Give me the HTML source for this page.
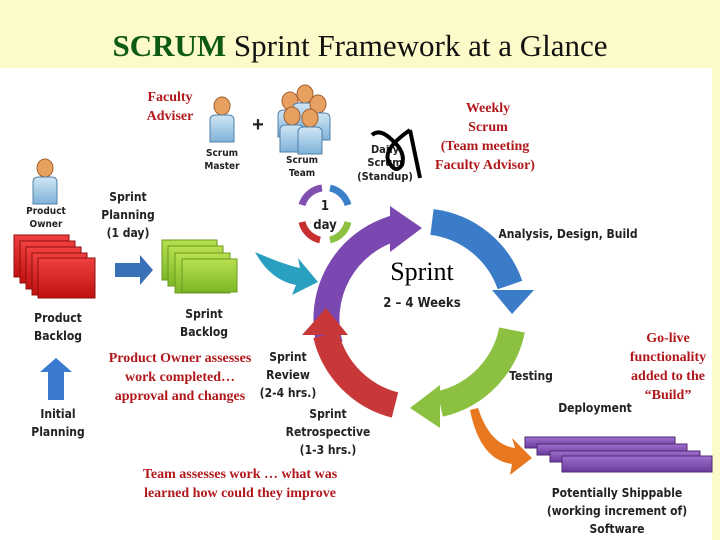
<!DOCTYPE html>
<html><head><meta charset="utf-8"><style>
body{margin:0;width:720px;height:540px;overflow:hidden;background:#fff}
svg{display:block}
.c{font-family:"DejaVu Sans Condensed","Liberation Sans",sans-serif;font-weight:bold;fill:#222}
.r{font-family:"Liberation Serif",serif;font-weight:bold;fill:#b0181c;font-size:14px}
</style></head><body>
<svg width="720" height="540" viewBox="0 0 720 540">
<defs>
<linearGradient id="rd" x1="0" y1="0" x2="0" y2="1"><stop offset="0" stop-color="#f04040"/><stop offset="1" stop-color="#c01010"/></linearGradient>
<linearGradient id="gr" x1="0" y1="0" x2="0" y2="1"><stop offset="0" stop-color="#b8e050"/><stop offset="1" stop-color="#7cb828"/></linearGradient>
<linearGradient id="pu" x1="0" y1="0" x2="0" y2="1"><stop offset="0" stop-color="#a070d0"/><stop offset="1" stop-color="#6a3a9a"/></linearGradient>
<linearGradient id="bd" x1="0" y1="0" x2="0" y2="1"><stop offset="0" stop-color="#cfe6f5"/><stop offset="1" stop-color="#7fb2d8"/></linearGradient>
<g id="p"><ellipse cx="0" cy="-14" rx="8" ry="9" fill="#e8a060" stroke="#a06030"/><path d="M-12 22 L-12 0 Q-12 -5 -6 -5 L6 -5 Q12 -5 12 0 L12 22 Z" fill="url(#bd)" stroke="#5080a8"/></g>
</defs>
<rect x="0" y="0" width="720" height="68" fill="#fcfac8"/>
<rect x="712" y="68" width="8" height="472" fill="#fcfac8"/>
<text x="360" y="56" text-anchor="middle" font-family="Liberation Serif,serif" font-size="31" fill="#111"><tspan fill="#0d5a12" font-weight="bold">SCRUM</tspan> Sprint Framework at a Glance</text>

<text class="r" x="170" y="101" text-anchor="middle">Faculty</text>
<text class="r" x="170" y="120" text-anchor="middle">Adviser</text>
<use href="#p" x="222" y="120"/>
<text class="c" x="222" y="156" text-anchor="middle" font-size="10">Scrum</text>
<text class="c" x="222" y="169" text-anchor="middle" font-size="10">Master</text>
<text x="258" y="131" text-anchor="middle" font-size="20" font-weight="bold" font-family="Liberation Sans,sans-serif" fill="#222">+</text>
<use href="#p" x="290" y="115"/><use href="#p" x="305" y="108"/><use href="#p" x="318" y="118"/><use href="#p" x="292" y="130"/><use href="#p" x="310" y="132"/>
<text class="c" x="302" y="163" text-anchor="middle" font-size="10">Scrum</text>
<text class="c" x="302" y="176" text-anchor="middle" font-size="10">Team</text>

<text class="c" x="385" y="153" text-anchor="middle" font-size="11">Daily</text>
<text class="c" x="385" y="166" text-anchor="middle" font-size="11">Scrum</text>
<text class="c" x="385" y="180" text-anchor="middle" font-size="11">(Standup)</text>
<path d="M372 135 Q380 128 392 140 Q406 152 402 165 Q395 175 388 160 Q384 148 410 130 M410 130 L420 178" stroke="#000" stroke-width="4" fill="none"/>
<text class="r" x="488" y="112" text-anchor="middle">Weekly</text>
<text class="r" x="488" y="131" text-anchor="middle">Scrum</text>
<text class="r" x="485" y="150" text-anchor="middle">(Team meeting</text>
<text class="r" x="485" y="169" text-anchor="middle">Faculty Advisor)</text>

<use href="#p" x="45" y="182"/>
<text class="c" x="46" y="214" text-anchor="middle" font-size="10">Product</text>
<text class="c" x="46" y="227" text-anchor="middle" font-size="10">Owner</text>
<g stroke="#901010" stroke-width="1">
<rect x="14" y="235" width="55" height="42" fill="url(#rd)"/><rect x="20" y="241" width="55" height="42" fill="url(#rd)"/><rect x="26" y="247" width="55" height="42" fill="url(#rd)"/><rect x="32" y="253" width="55" height="42" fill="url(#rd)"/><rect x="38" y="258" width="57" height="40" fill="url(#rd)"/></g>
<text class="c" x="58" y="322" text-anchor="middle" font-size="12">Product</text>
<text class="c" x="58" y="340" text-anchor="middle" font-size="12">Backlog</text>
<path d="M48 400 L48 372 L40 372 L56 358 L72 372 L64 372 L64 400 Z" fill="#3a7ad0"/>
<text class="c" x="58" y="418" text-anchor="middle" font-size="12">Initial</text>
<text class="c" x="58" y="436" text-anchor="middle" font-size="12">Planning</text>

<text class="c" x="128" y="201" text-anchor="middle" font-size="12">Sprint</text>
<text class="c" x="128" y="219" text-anchor="middle" font-size="12">Planning</text>
<text class="c" x="128" y="237" text-anchor="middle" font-size="12">(1 day)</text>
<path d="M115 263 L140 263 L140 255 L153 270 L140 285 L140 277 L115 277 Z" fill="#3a70b8"/>
<g stroke="#6a9a20"><rect x="162" y="240" width="55" height="40" fill="url(#gr)"/><rect x="168" y="246" width="55" height="40" fill="url(#gr)"/><rect x="175" y="253" width="55" height="40" fill="url(#gr)"/><rect x="182" y="259" width="55" height="33" fill="url(#gr)"/></g>
<text class="c" x="204" y="318" text-anchor="middle" font-size="12">Sprint</text>
<text class="c" x="204" y="336" text-anchor="middle" font-size="12">Backlog</text>

<g fill="none" stroke-width="7">
<path d="M302 205 A24 24 0 0 1 322 188" stroke="#8050b0"/><path d="M330 188 A24 24 0 0 1 348 205" stroke="#3a80c8"/>
<path d="M348 222 A24 24 0 0 1 330 240" stroke="#8cc040"/><path d="M320 240 A24 24 0 0 1 302 222" stroke="#c83030"/></g>
<text class="c" x="325" y="210" text-anchor="middle" font-size="13">1</text>
<text class="c" x="325" y="229" text-anchor="middle" font-size="13">day</text>

<path d="M255 252 Q285 265 300 268 L298 258 L318 282 L292 295 L296 285 Q270 280 255 252 Z" fill="#2aa0c0"/>
<g fill="none" stroke-width="26">
<path d="M330 345 A95 95 0 0 1 395 228" stroke="#7a48b0"/>
<path d="M432 222 A95 95 0 0 1 510 285" stroke="#3a7cc8"/>
<path d="M512 330 A95 95 0 0 1 440 404" stroke="#8cc040"/>
<path d="M395 405 A95 95 0 0 1 326 335" stroke="#c83838"/></g>
<polygon points="390,206 422,228 390,252" fill="#7a48b0"/>
<polygon points="492,290 534,290 512,314" fill="#3a7cc8"/>
<polygon points="440,385 440,428 410,408" fill="#8cc040"/>
<polygon points="302,335 348,335 326,308" fill="#c83838"/>
<text x="422" y="280" text-anchor="middle" font-family="Liberation Serif,serif" font-size="26" fill="#000">Sprint</text>
<text class="c" x="422" y="307" text-anchor="middle" font-size="13">2 – 4 Weeks</text>
<text class="c" x="568" y="238" text-anchor="middle" font-size="12">Analysis, Design, Build</text>
<text class="c" x="531" y="380" text-anchor="middle" font-size="12">Testing</text>
<text class="c" x="595" y="412" text-anchor="middle" font-size="12">Deployment</text>
<path d="M478 408 Q490 445 515 448 L512 438 L532 458 L510 475 L512 464 Q480 460 470 410 Z" fill="#e87820"/>

<g stroke="#502870"><rect x="525" y="437" width="150" height="11" fill="url(#pu)"/><rect x="537" y="444" width="150" height="11" fill="url(#pu)"/><rect x="550" y="451" width="150" height="11" fill="url(#pu)"/><rect x="562" y="456" width="150" height="16" fill="url(#pu)"/></g>
<text class="c" x="617" y="497" text-anchor="middle" font-size="12">Potentially Shippable</text>
<text class="c" x="617" y="515" text-anchor="middle" font-size="12">(working increment of)</text>
<text class="c" x="617" y="533" text-anchor="middle" font-size="12">Software</text>
<text class="r" x="668" y="342" text-anchor="middle">Go-live</text>
<text class="r" x="668" y="361" text-anchor="middle">functionality</text>
<text class="r" x="668" y="380" text-anchor="middle">added to the</text>
<text class="r" x="668" y="399" text-anchor="middle">“Build”</text>

<text class="c" x="288" y="361" text-anchor="middle" font-size="12">Sprint</text>
<text class="c" x="288" y="379" text-anchor="middle" font-size="12">Review</text>
<text class="c" x="288" y="397" text-anchor="middle" font-size="12">(2-4 hrs.)</text>
<text class="r" x="180" y="362" text-anchor="middle">Product Owner assesses</text>
<text class="r" x="180" y="381" text-anchor="middle">work completed…</text>
<text class="r" x="180" y="400" text-anchor="middle">approval and changes</text>
<text class="c" x="328" y="418" text-anchor="middle" font-size="12">Sprint</text>
<text class="c" x="328" y="436" text-anchor="middle" font-size="12">Retrospective</text>
<text class="c" x="328" y="454" text-anchor="middle" font-size="12">(1-3 hrs.)</text>
<text class="r" x="240" y="478" text-anchor="middle">Team assesses work … what was</text>
<text class="r" x="240" y="497" text-anchor="middle">learned how could they improve</text>
</svg>
</body></html>
